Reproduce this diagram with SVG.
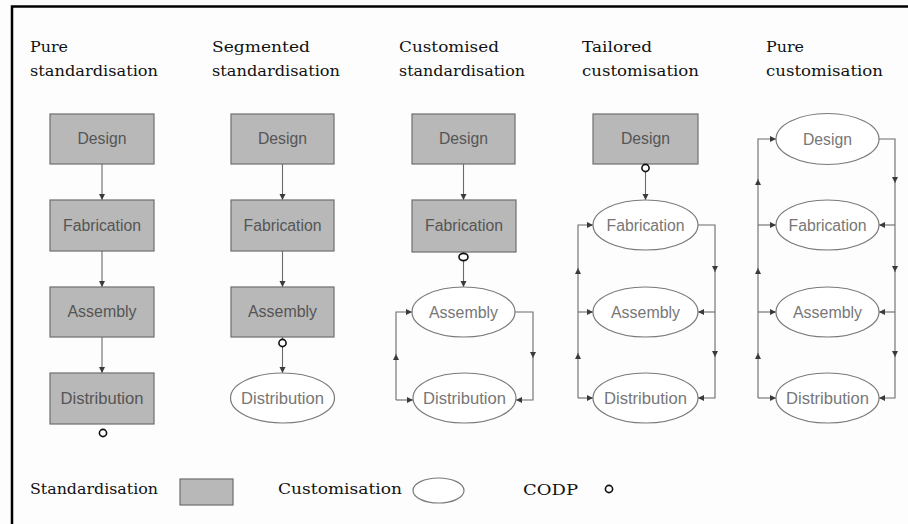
<svg xmlns="http://www.w3.org/2000/svg" width="908" height="524" viewBox="0 0 908 524">
  <defs>
    <marker id="arr" markerUnits="userSpaceOnUse" markerWidth="7" markerHeight="7" refX="6" refY="3" orient="auto">
      <path d="M0,0 L6,3 L0,6 z" fill="#3a3a3a"/>
    </marker>
    <style>
      .title { font-family: "DejaVu Serif", "Liberation Serif", serif; font-size: 15px; fill: #111; }
      .legend { font-family: "DejaVu Serif", "Liberation Serif", serif; font-size: 15px; fill: #111; }
      .std { fill: #b8b8b8; stroke: #6e6e6e; stroke-width: 1.2; }
      .cus { fill: #ffffff; stroke: #7a7a7a; stroke-width: 1.2; }
      .lbl { font-family: "Liberation Sans Narrow", "Liberation Sans", Arial, sans-serif; font-size: 16px; text-anchor: middle; }
      .lstd { fill: #555; }
      .lcus { fill: #777; }
      .wire { fill: none; stroke: #6a6a6a; stroke-width: 1.1; }
      .codp { fill: #fff; stroke: #111; stroke-width: 1.6; }
    </style>
  </defs>

  <rect x="0" y="0" width="908" height="524" fill="#fdfdfd"/>
  <!-- frame -->
  <path d="M12,524 V6.5 H908" fill="none" stroke="#000" stroke-width="2.5"/>

  <!-- column titles -->
  <g id="titles">
    <text class="title" x="30" y="52" textLength="38" lengthAdjust="spacingAndGlyphs">Pure</text>
    <text class="title" x="30" y="76" textLength="128" lengthAdjust="spacingAndGlyphs">standardisation</text>
    <text class="title" x="212" y="52" textLength="98" lengthAdjust="spacingAndGlyphs">Segmented</text>
    <text class="title" x="212" y="76" textLength="128" lengthAdjust="spacingAndGlyphs">standardisation</text>
    <text class="title" x="399" y="52" textLength="100" lengthAdjust="spacingAndGlyphs">Customised</text>
    <text class="title" x="399" y="76" textLength="126" lengthAdjust="spacingAndGlyphs">standardisation</text>
    <text class="title" x="582" y="52" textLength="70" lengthAdjust="spacingAndGlyphs">Tailored</text>
    <text class="title" x="582" y="76" textLength="117" lengthAdjust="spacingAndGlyphs">customisation</text>
    <text class="title" x="766" y="52" textLength="38" lengthAdjust="spacingAndGlyphs">Pure</text>
    <text class="title" x="766" y="76" textLength="117" lengthAdjust="spacingAndGlyphs">customisation</text>
  </g>

  <!-- connectors -->
  <g id="connectors">
    <!-- pure standardisation -->
    <path class="wire" d="M102,164 V200" marker-end="url(#arr)"/>
    <path class="wire" d="M102,251 V287" marker-end="url(#arr)"/>
    <path class="wire" d="M102,337 V373" marker-end="url(#arr)"/>
    <!-- segmented standardisation -->
    <path class="wire" d="M282.5,164 V200" marker-end="url(#arr)"/>
    <path class="wire" d="M282.5,251 V287" marker-end="url(#arr)"/>
    <path class="wire" d="M282.5,337 V373" marker-end="url(#arr)"/>
    <!-- customised standardisation -->
    <path class="wire" d="M463.5,164 V200" marker-end="url(#arr)"/>
    <path class="wire" d="M463.5,252 V287" marker-end="url(#arr)"/>
    <path class="wire" d="M515,312 H533 V358" marker-end="url(#arr)"/>
    <path class="wire" d="M533,356 V400 H516" marker-end="url(#arr)"/>
    <path class="wire" d="M396,400 V354" marker-end="url(#arr)"/>
    <path class="wire" d="M396,356 V312 H412" marker-end="url(#arr)"/>
    <path class="wire" d="M396,400 H413" marker-end="url(#arr)"/>
    <!-- tailored customisation -->
    <path class="wire" d="M645.5,164 V200" marker-end="url(#arr)"/>
    <path class="wire" d="M698,225 H715 V272" marker-end="url(#arr)"/>
    <path class="wire" d="M715,270 V357" marker-end="url(#arr)"/>
    <path class="wire" d="M715,312 H698" marker-end="url(#arr)"/>
    <path class="wire" d="M715,355 V398 H698" marker-end="url(#arr)"/>
    <path class="wire" d="M578,398 V353" marker-end="url(#arr)"/>
    <path class="wire" d="M578,355 V268" marker-end="url(#arr)"/>
    <path class="wire" d="M578,270 V225 H593" marker-end="url(#arr)"/>
    <path class="wire" d="M578,312 H593" marker-end="url(#arr)"/>
    <path class="wire" d="M578,398 H593" marker-end="url(#arr)"/>
    <!-- pure customisation -->
    <path class="wire" d="M879,139 H895 V183" marker-end="url(#arr)"/>
    <path class="wire" d="M895,181 V272" marker-end="url(#arr)"/>
    <path class="wire" d="M895,270 V357" marker-end="url(#arr)"/>
    <path class="wire" d="M895,225 H879" marker-end="url(#arr)"/>
    <path class="wire" d="M895,312 H879" marker-end="url(#arr)"/>
    <path class="wire" d="M895,355 V398 H879" marker-end="url(#arr)"/>
    <path class="wire" d="M758,398 V353" marker-end="url(#arr)"/>
    <path class="wire" d="M758,355 V268" marker-end="url(#arr)"/>
    <path class="wire" d="M758,270 V179" marker-end="url(#arr)"/>
    <path class="wire" d="M758,181 V139 H776" marker-end="url(#arr)"/>
    <path class="wire" d="M758,225 H776" marker-end="url(#arr)"/>
    <path class="wire" d="M758,312 H776" marker-end="url(#arr)"/>
    <path class="wire" d="M758,398 H776" marker-end="url(#arr)"/>
  </g>

  <!-- pure standardisation -->
  <g id="ps-design"><rect class="std" x="50" y="114" width="104" height="50"/><text class="lbl lstd" x="102" y="144" textLength="49" lengthAdjust="spacingAndGlyphs">Design</text></g>
  <g id="ps-fabrication"><rect class="std" x="50" y="200" width="104" height="51"/><text class="lbl lstd" x="102" y="231" textLength="78" lengthAdjust="spacingAndGlyphs">Fabrication</text></g>
  <g id="ps-assembly"><rect class="std" x="50" y="287" width="104" height="50"/><text class="lbl lstd" x="102" y="317" textLength="69" lengthAdjust="spacingAndGlyphs">Assembly</text></g>
  <g id="ps-distribution"><rect class="std" x="50" y="373" width="104" height="51"/><text class="lbl lstd" x="102" y="404" textLength="83" lengthAdjust="spacingAndGlyphs">Distribution</text></g>
  <g id="ps-codp"><circle class="codp" cx="103" cy="433" r="3.6"/></g>

  <!-- segmented standardisation -->
  <g id="ss-design"><rect class="std" x="231" y="114" width="103" height="50"/><text class="lbl lstd" x="282.5" y="144" textLength="49" lengthAdjust="spacingAndGlyphs">Design</text></g>
  <g id="ss-fabrication"><rect class="std" x="231" y="200" width="103" height="51"/><text class="lbl lstd" x="282.5" y="231" textLength="78" lengthAdjust="spacingAndGlyphs">Fabrication</text></g>
  <g id="ss-assembly"><rect class="std" x="231" y="287" width="103" height="50"/><text class="lbl lstd" x="282.5" y="317" textLength="69" lengthAdjust="spacingAndGlyphs">Assembly</text></g>
  <g id="ss-distribution"><ellipse class="cus" cx="282.5" cy="398" rx="52" ry="25"/><text class="lbl lcus" x="282.5" y="404" textLength="83" lengthAdjust="spacingAndGlyphs">Distribution</text></g>
  <g id="ss-codp"><circle class="codp" cx="282.5" cy="343" r="3.6"/></g>

  <!-- customised standardisation -->
  <g id="cs-design"><rect class="std" x="412" y="114" width="103" height="50"/><text class="lbl lstd" x="463.5" y="144" textLength="49" lengthAdjust="spacingAndGlyphs">Design</text></g>
  <g id="cs-fabrication"><rect class="std" x="412" y="200" width="104" height="52"/><text class="lbl lstd" x="464" y="231" textLength="78" lengthAdjust="spacingAndGlyphs">Fabrication</text></g>
  <g id="cs-assembly"><ellipse class="cus" cx="463.5" cy="312" rx="51.5" ry="25"/><text class="lbl lcus" x="463.5" y="318" textLength="69" lengthAdjust="spacingAndGlyphs">Assembly</text></g>
  <g id="cs-distribution"><ellipse class="cus" cx="464.5" cy="398" rx="51.5" ry="25"/><text class="lbl lcus" x="464.5" y="404" textLength="83" lengthAdjust="spacingAndGlyphs">Distribution</text></g>
  <g id="cs-codp"><ellipse class="codp" cx="463.5" cy="257" rx="4.5" ry="3.6"/></g>

  <!-- tailored customisation -->
  <g id="tc-design"><rect class="std" x="593" y="114" width="105" height="50"/><text class="lbl lstd" x="645.5" y="144" textLength="49" lengthAdjust="spacingAndGlyphs">Design</text></g>
  <g id="tc-fabrication"><ellipse class="cus" cx="645.5" cy="225" rx="52.5" ry="25"/><text class="lbl lcus" x="645.5" y="231" textLength="78" lengthAdjust="spacingAndGlyphs">Fabrication</text></g>
  <g id="tc-assembly"><ellipse class="cus" cx="645.5" cy="312" rx="52.5" ry="25"/><text class="lbl lcus" x="645.5" y="318" textLength="69" lengthAdjust="spacingAndGlyphs">Assembly</text></g>
  <g id="tc-distribution"><ellipse class="cus" cx="645.5" cy="398" rx="52.5" ry="25"/><text class="lbl lcus" x="645.5" y="404" textLength="83" lengthAdjust="spacingAndGlyphs">Distribution</text></g>
  <g id="tc-codp"><circle class="codp" cx="645.5" cy="168" r="3.6"/></g>

  <!-- pure customisation -->
  <g id="pc-design"><ellipse class="cus" cx="827.5" cy="139" rx="51.5" ry="25.5"/><text class="lbl lcus" x="827.5" y="145" textLength="49" lengthAdjust="spacingAndGlyphs">Design</text></g>
  <g id="pc-fabrication"><ellipse class="cus" cx="827.5" cy="225" rx="51.5" ry="25"/><text class="lbl lcus" x="827.5" y="231" textLength="78" lengthAdjust="spacingAndGlyphs">Fabrication</text></g>
  <g id="pc-assembly"><ellipse class="cus" cx="827.5" cy="312" rx="51.5" ry="25"/><text class="lbl lcus" x="827.5" y="318" textLength="69" lengthAdjust="spacingAndGlyphs">Assembly</text></g>
  <g id="pc-distribution"><ellipse class="cus" cx="827.5" cy="398" rx="51.5" ry="25"/><text class="lbl lcus" x="827.5" y="404" textLength="83" lengthAdjust="spacingAndGlyphs">Distribution</text></g>

  <!-- key -->
  <g id="legend">
    <text class="legend" x="30" y="494" textLength="128" lengthAdjust="spacingAndGlyphs">Standardisation</text>
    <rect class="std" x="180" y="479" width="53" height="26"/>
    <text class="legend" x="278" y="494" textLength="124" lengthAdjust="spacingAndGlyphs">Customisation</text>
    <ellipse class="cus" cx="438.5" cy="490.5" rx="25.5" ry="12.5"/>
    <text class="legend" x="523" y="495" textLength="55" lengthAdjust="spacingAndGlyphs">CODP</text>
    <circle class="codp" cx="609" cy="489" r="3.6"/>
  </g>
</svg>
